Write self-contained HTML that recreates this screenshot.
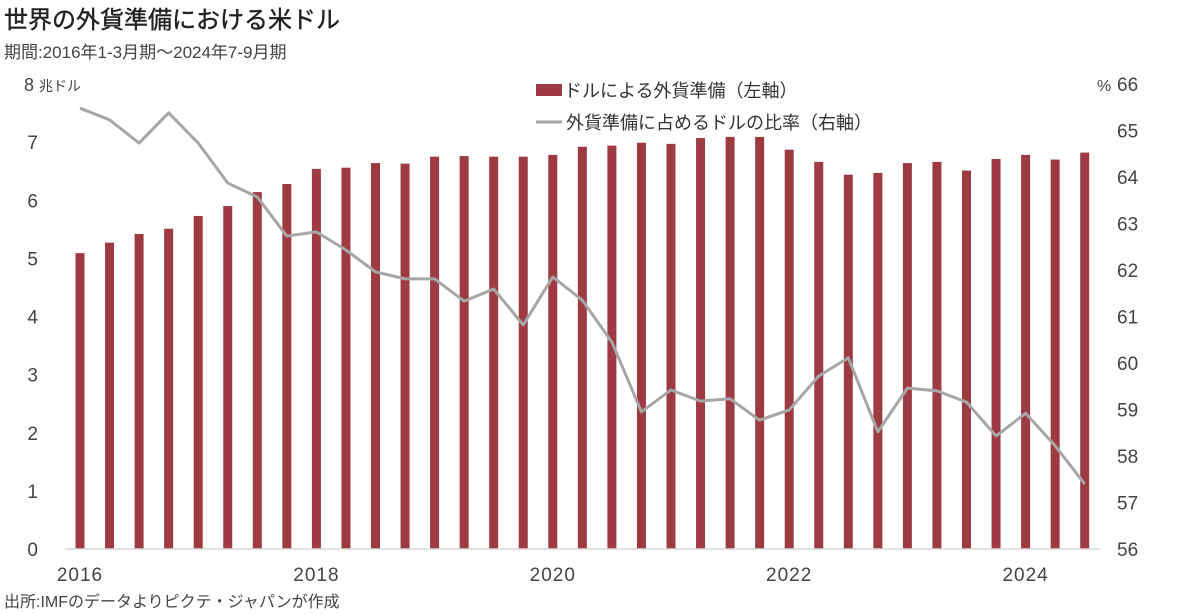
<!DOCTYPE html>
<html><head><meta charset="utf-8"><style>
body{margin:0;background:#fff;width:1179px;height:615px;overflow:hidden}
svg{display:block;font-family:"Liberation Sans","Noto Sans CJK JP",sans-serif}
</style></head><body>
<svg id="chart" width="1179" height="615" viewBox="0 0 1179 615">
<text x="4" y="28" font-size="24" fill="#222" stroke="#222" stroke-width="0.4">世界の外貨準備における米ドル</text>
<text x="4" y="58" font-size="17" fill="#444">期間:2016年1-3月期～2024年7-9月期</text>
<text x="24" y="91" font-size="18" fill="#444">8 <tspan font-size="14">兆ドル</tspan></text>
<text x="1097" y="91" font-size="16" fill="#444">%</text>
<text x="4" y="607" font-size="16" fill="#444">出所:IMFのデータよりピクテ・ジャパンが作成</text>
<g>
<rect x="536" y="84" width="26" height="12" fill="#9e3a42"/>
<text x="564" y="97" font-size="18" fill="#333">ドルによる外貨準備（左軸）</text>
<line x1="536" y1="122" x2="562" y2="122" stroke="#a6a6a6" stroke-width="3"/>
<text x="566" y="129" font-size="18" fill="#333">外貨準備に占めるドルの比率（右軸）</text>
</g>
<g id="plot"></g>
</svg>
<script>
const years=["2016","2018","2020","2022","2024"];
const leftTicks=[0,1,2,3,4,5,6,7];
const rightTicks=[56,57,58,59,60,61,62,63,64,65,66];
const reserves=[5.09,5.27,5.42,5.51,5.73,5.90,6.14,6.28,6.54,6.56,6.64,6.63,6.75,6.76,6.75,6.75,6.78,6.92,6.94,6.99,6.97,7.07,7.09,7.09,6.87,6.66,6.44,6.47,6.64,6.66,6.51,6.71,6.78,6.70,6.82];
const share=[65.48,65.23,64.73,65.38,64.73,63.87,63.57,62.73,62.82,62.43,61.96,61.81,61.81,61.33,61.59,60.82,61.85,61.35,60.45,58.95,59.42,59.18,59.23,58.77,58.99,59.72,60.11,58.52,59.46,59.40,59.16,58.43,58.92,58.22,57.40];
const NS="http://www.w3.org/2000/svg";
const g=document.getElementById('plot');
const y0=549,y1=84;
const xQ=i=>80+i*29.55;
const yL=v=>y0-(v/8)*(y0-y1);
const yR=v=>y0-((v-56)/10)*(y0-y1);
function mk(t,a){const e=document.createElementNS(NS,t);for(const k in a)e.setAttribute(k,a[k]);g.appendChild(e);return e;}
leftTicks.forEach(v=>{const t=mk('text',{x:38,y:yL(v)+7,'font-size':19,fill:'#444','text-anchor':'end'});t.textContent=v;

});
rightTicks.forEach(v=>{const t=mk('text',{x:1117,y:yR(v)+7,'font-size':19,fill:'#444'});t.textContent=v;

});
years.forEach((y,i)=>{const t=mk('text',{x:xQ(i*8),y:581,'font-size':19,fill:'#444','text-anchor':'middle','letter-spacing':'1'});t.textContent=y;

});
reserves.forEach((v,i)=>{const r=mk('rect',{x:xQ(i)-4.5,y:yL(v),width:9,height:y0-yL(v),fill:'#9e3a42'});

});
const ax=mk('line',{x1:65,y1:y0,x2:1100,y2:y0,stroke:'#d9d9d9','stroke-width':1.5});


const p=mk('polyline',{points:share.map((v,i)=>xQ(i)+','+yR(v)).join(' '),fill:'none',stroke:'#a6a6a6','stroke-width':3,'stroke-linejoin':'round'});


</script>
</body></html>
